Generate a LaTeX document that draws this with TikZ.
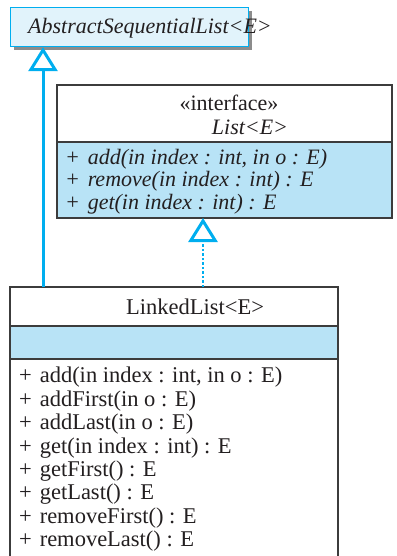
\documentclass[tikz,border=0pt]{standalone}
\usepackage{fontspec}
\setmainfont{Liberation Serif}
\usetikzlibrary{arrows.meta,positioning}
\definecolor{umlcyan}{HTML}{00AEEF}
\definecolor{absfill}{HTML}{E1F3FB}
\definecolor{opsfill}{HTML}{B8E3F6}
\definecolor{boxline}{HTML}{3C3C3C}
\definecolor{ink}{HTML}{231F20}
\definecolor{shadegray}{HTML}{8C8C8C}
\newcommand{\umlplus}{+\hspace{.35em}}

\begin{document}
\begin{tikzpicture}[x=1pt,y=-1pt,inner sep=0pt,text=ink,
  font=\fontsize{22}{23.4}\selectfont,
  cls/.style={draw=boxline,line width=1.2pt,outer sep=0pt,fill=white},
  ops/.style={cls,fill=opsfill},
  mth/.style={anchor=north west,align=left},
  gen/.style={draw=umlcyan,line width=3pt,
    -{Triangle[length=24pt,width=29pt,fill=white,line width=3pt]}},
  real/.style={gen,line width=2pt,dash pattern=on 2.5pt off 2pt}]
\useasboundingbox (0,0) rectangle (396,556);
% abstract parent, with its shadow
\fill[shadegray] (14,11) rectangle (252,50);
\node[draw=umlcyan,line width=1.2pt,fill=absfill,anchor=north west,
  minimum width=238pt,minimum height=39pt] (asl) at (10,7) {};
\node[anchor=west,font=\fontsize{22}{23.4}\selectfont\itshape] (aslname) at (28,28)
  {AbstractSequentialList<E>};
% interface
\node[cls,anchor=north west,minimum width=335pt,minimum height=57pt] (listhd) at (57,85) {};
\node[ops,below=0pt of listhd,minimum width=335pt,minimum height=76pt] (listops) {};
\node (stereo) at (229,103) {«interface»};
\node[font=\fontsize{22}{23.4}\selectfont\itshape] (listname) at (250,127) {List<E>};
\node[mth,font=\fontsize{22}{22.5}\selectfont\itshape] (listm) at (65,149)
  {\umlplus add(in index : int, in o : E)\\
   \umlplus remove(in index : int) : E\\
   \umlplus get(in index : int) : E};
% linked list
\node[cls,anchor=north west,minimum width=328pt,minimum height=39pt] (llhd) at (10,287) {};
\node[ops,below=0pt of llhd,minimum width=328pt,minimum height=33pt] (llattr) {};
\node[cls,below=0pt of llattr,minimum width=328pt,minimum height=210pt] (llops) {};
\node[font=\fontsize{22.5}{23.4}\selectfont] (llname) at (195,307) {LinkedList<E>};
\node[mth,font=\fontsize{22.5}{23.4}\selectfont] (llm) at (19,367)
  {\umlplus add(in index : int, in o : E)\\
   \umlplus addFirst(in o : E)\\
   \umlplus addLast(in o : E)\\
   \umlplus get(in index : int) : E\\
   \umlplus getFirst() : E\\
   \umlplus getLast() : E\\
   \umlplus removeFirst() : E\\
   \umlplus removeLast() : E};
% relations
\draw[gen] ([xshift=33pt]llhd.north west) -- ([xshift=33pt]asl.south west);
\draw[real] ([xshift=193pt]llhd.north west) -- ([xshift=146pt]listops.south west);
\end{tikzpicture}
\end{document}
